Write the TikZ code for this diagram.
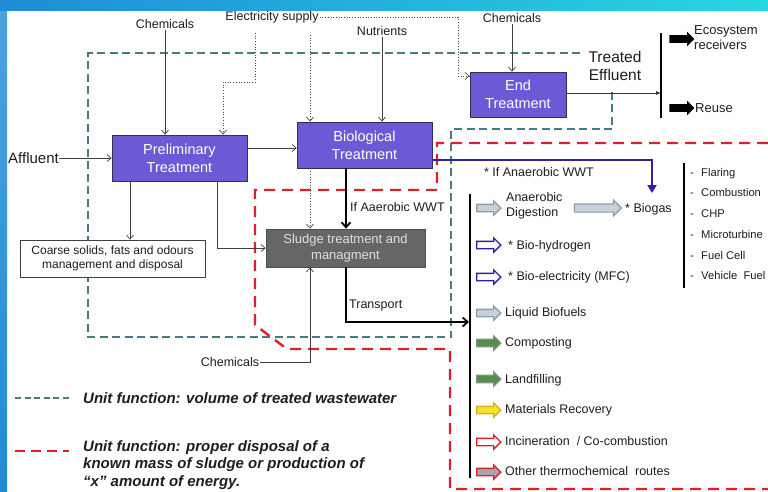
\documentclass[tikz,border=0pt]{standalone}
\usepackage{fontspec}
\setmainfont{Liberation Sans}
\usetikzlibrary{arrows.meta,shapes.arrows}
\definecolor{pboxc}{RGB}{106,90,214}
\definecolor{pborder}{RGB}{50,45,90}
\definecolor{gboxc}{RGB}{102,102,102}
\definecolor{tealc}{RGB}{74,122,128}
\definecolor{redc}{RGB}{222,32,40}
\definecolor{bluec}{RGB}{45,35,160}
\definecolor{txtc}{RGB}{30,30,30}
\definecolor{frameA}{RGB}{30,140,215}
\definecolor{frameB}{RGB}{40,215,225}
\definecolor{greyarrow}{RGB}{200,208,216}
\definecolor{greyedge}{RGB}{140,158,176}
\definecolor{greenc}{RGB}{86,140,76}
\definecolor{greenedge}{RGB}{125,145,125}
\definecolor{yellowc}{RGB}{245,225,40}
\definecolor{yellowedge}{RGB}{215,180,30}
\newcommand{\fsz}[2]{\fontsize{#1}{#2}\selectfont}
\newcommand{\shaft}[1]{\rule{0pt}{#1}}
\begin{document}
\begin{tikzpicture}[x=1pt,y=-1pt,
  pbox/.style={draw=pborder, line width=0.8pt, fill=pboxc, text=white, align=center, inner sep=0pt, font=\fsz{14.5}{18}},
  gbox/.style={draw=black!70, line width=0.8pt, fill=gboxc, text=black!12, align=center, inner sep=0pt, font=\fsz{13}{16}},
  wbox/.style={draw=black!75, line width=0.8pt, fill=white, text=txtc, align=center, inner sep=0pt, font=\fsz{12}{14.5}},
  lbl/.style={text=txtc, font=\fsz{12.5}{15}, inner sep=1pt},
  item/.style={text=txtc, font=\fsz{12.5}{15}, inner sep=0pt, anchor=west, text height=9pt, text depth=2.5pt},
  sitem/.style={text=txtc, font=\fsz{11.2}{13}, inner sep=0pt, anchor=west, text height=8pt, text depth=2.5pt},
  conn/.style={draw=black!75, line width=0.7pt, -{Straight Barb[length=4pt,width=7pt]}},
  dotc/.style={draw=black!70, line width=0.7pt, dotted, -{Straight Barb[length=4pt,width=7pt]}},
  thk/.style={draw=black, line width=1.8pt, -{Straight Barb[length=5pt,width=9pt]}},
  tealdash/.style={draw=tealc, line width=1.8pt, dash pattern=on 8pt off 4.5pt},
  reddash/.style={draw=redc, line width=2.4pt, dash pattern=on 11pt off 7pt},
  harrow/.style={single arrow, minimum height=24pt, single arrow head extend=3.5pt, inner sep=0pt, line width=1.3pt},
  barrow/.style={single arrow, fill=black, minimum height=25pt, single arrow head extend=3.5pt, inner sep=0pt}
]
\useasboundingbox (0,0) rectangle (768,491);
% frame
\fill[white] (0,0) rectangle (768,491);
\shade[top color=frameA!80!white, bottom color=frameA] (0,0) rectangle (7,491);
\shade[left color=frameA, right color=frameB] (0,0) rectangle (768,10);

% dashed boundaries
\draw[tealdash] (580,53) -- (88,53) -- (88,337) -- (451,337) -- (451,129) -- (612,129) -- (612,88);
\draw[reddash] (768,143) -- (437,143) -- (437,190) -- (255,190) -- (255,325) -- (287,349) -- (450,349) -- (450,489) -- (768,489);

% boxes
\node[pbox, minimum width=135pt, minimum height=46pt] (prelim) at (179.5,158) {Preliminary\\Treatment};
\node[pbox, minimum width=135pt, minimum height=46pt] (bio) at (364.5,145) {Biological\\Treatment};
\node[pbox, minimum width=96pt, minimum height=45pt] (endt) at (518,94.5) {End\\Treatment};
\node[gbox, minimum width=159pt, minimum height=38pt] (sludge) at (345.5,248) {Sludge treatment and\\managment};
\node[wbox, minimum width=185pt, minimum height=37pt] (coarse) at (112.5,258.5) {Coarse solids, fats and odours\\management and disposal};

% labels
\node[lbl] (chem1) at (165,24) {Chemicals};
\node[lbl] (elec) at (272,17) {Electricity supply};
\node[lbl] (nutr) at (382,31) {Nutrients};
\node[lbl] (chem2) at (512,18) {Chemicals};
\node[lbl] (chem3) at (230,362) {Chemicals};
\node[lbl, font=\fsz{15}{17}, anchor=west, inner sep=0pt] (affl) at (8,158) {Affluent};
\node[lbl, anchor=west] (aer) at (349,207) {If Aaerobic WWT};
\node[lbl, anchor=west] (transp) at (348,305) {Transport};
\node[lbl, font=\fsz{15.5}{18}, align=center] (treated) at (615,66) {Treated\\Effluent};

% coordinates
\coordinate (e1) at (255,33);
\coordinate (e2) at (223,82);
\coordinate (e3) at (310,35);
\coordinate (e4) at (458,76);
\coordinate (pb) at (247,148);
\coordinate (pc) at (130,181);
\coordinate (ps) at (217,181);
\coordinate (bs) at (346,168);
\coordinate (trend) at (469,322);
\coordinate (barT) at (470,194);
\coordinate (barB) at (470,478);
\coordinate (bar2T) at (661,33);
\coordinate (bar2B) at (661,118);
\coordinate (blueA) at (432,160);
\coordinate (blueB) at (652,160);
\coordinate (blueC) at (652,193);

% inputs
\draw[conn] (chem1.south) -- (chem1.south |- prelim.north);
\draw[dotc] (e1) |- (e2) -- (e2 |- prelim.north);
\draw[dotc] (e3) -- (e3 |- bio.north);
\draw[dotc] (elec.east) -| (e4) -- (e4 -| endt.west);
\draw[dotc] (e3 |- bio.south) -- (e3 |- sludge.north);
\draw[conn] (nutr.south) -- (nutr.south |- bio.north);
\draw[conn] (chem2.south) -- (chem2.south |- endt.north);
\draw[conn] (affl.east) -- (affl.east -| prelim.west);
\draw[conn] (pb) -- (pb -| bio.west);
\draw[conn] (pc) -- (pc |- coarse.north);
\draw[conn] (ps) |- (sludge.west);
\draw[thk] (bs) -- (bs |- sludge.north);
\draw[thk] (bs |- sludge.south) |- (trend);
\draw[conn] (chem3.east) -| (e3 |- sludge.south);
\draw[draw=black!80, line width=0.8pt, -{Latex[length=5pt,width=4pt]}] (endt.east |- 0,93) -- (bar2T |- 0,93);
\draw[draw=bluec, line width=2pt, -{Triangle[length=8pt,width=9pt]}] (blueA) -- (blueB) -- (blueC);

% bars
\draw[line width=2.5pt] (barT) -- (barB);
\draw[line width=2.5pt] (bar2T) -- (bar2B);

% effluent outputs
\node[barrow] (ar1) at (680,39) {\shaft{7.5pt}};
\node[barrow] (ar2) at (680,108) {\shaft{7.5pt}};
\node[lbl, anchor=west, inner sep=0pt, align=left, font=\fsz{13}{15}] (eco) at (694,38) {Ecosystem\\receivers};
\node[lbl, anchor=west, inner sep=0pt, font=\fsz{13}{15}] (reuse) at (695,108) {Reuse};

% sludge routes
\node[lbl, font=\fsz{12.5}{15}] (ifan) at (539,172) {* If Anaerobic WWT};
\node[harrow, draw=greyedge, fill=greyarrow] (a1) at (487,208) {\shaft{6pt}};
\node[lbl, anchor=west, inner sep=0pt, align=left, font=\fsz{12.5}{15}] (t1) at (506,206) {Anaerobic\\Digestion};
\node[single arrow, draw=greyedge, fill=greyarrow, line width=1.2pt, minimum height=47pt, single arrow head extend=4pt, inner sep=0pt] (abig) at (596,208) {\shaft{7pt}};
\node[item] (biogas) at (625,209) {* Biogas};
\node[harrow, draw=bluec, fill=white] (a2) at (487,245) {\shaft{6pt}};
\node[item] (t2) at (508,246) {* Bio-hydrogen};
\node[harrow, draw=bluec, fill=white] (a3) at (487,277) {\shaft{6pt}};
\node[item] (t3) at (508,277) {* Bio-electricity (MFC)};
\node[harrow, draw=greyedge, fill=greyarrow] (a4) at (487,313) {\shaft{6pt}};
\node[item] (t4) at (505,313) {Liquid Biofuels};
\node[harrow, draw=greenedge, fill=greenc] (a5) at (487,343) {\shaft{6pt}};
\node[item] (t5) at (505,343) {Composting};
\node[harrow, draw=greenedge, fill=greenc] (a6) at (487,379) {\shaft{6pt}};
\node[item] (t6) at (505,380) {Landfilling};
\node[harrow, draw=yellowedge, fill=yellowc] (a7) at (487,410) {\shaft{6pt}};
\node[item] (t7) at (505,410) {Materials Recovery};
\node[harrow, draw=redc, fill=white] (a8) at (487,442) {\shaft{6pt}};
\node[item] (t8) at (505,442) {Incineration~ / Co-combustion};
\node[harrow, draw=redc, fill=black!35] (a9) at (487,472) {\shaft{6pt}};
\node[item] (t9) at (505,472) {Other thermochemical~ routes};

% biogas uses
\coordinate (bgT) at (684,163);
\coordinate (bgB) at (684,288);
\draw[line width=2.2pt] (bgT) -- (bgB);
\foreach \yy/\tt [count=\i] in {174/Flaring,194/Combustion,215/CHP,236/Microturbine,257/Fuel Cell,277/Vehicle~ Fuel}{
  \node[sitem] (d\i) at (690,\yy) {-};
  \node[sitem] (u\i) at (701,\yy) {\tt};
}

% legend
\coordinate (lgA) at (15,398);
\coordinate (lgB) at (69,398);
\coordinate (lgC) at (15,451);
\coordinate (lgD) at (69,451);
\draw[tealdash, line width=1.6pt, dash pattern=on 6pt off 3.5pt] (lgA) -- (lgB);
\draw[reddash, line width=2pt, dash pattern=on 10pt off 6pt] (lgC) -- (lgD);
\node[anchor=west, inner sep=0pt, text=txtc, font=\fsz{15}{18}\bfseries\itshape] (leg1) at (83,398) {Unit function: volume of treated wastewater};
\node[anchor=north west, inner sep=0pt, text=txtc, align=left, font=\fsz{15}{17.5}\bfseries\itshape] (leg2) at (83,440) {Unit function: proper disposal of a\\known mass of sludge or production of\\“x” amount of energy.};
\end{tikzpicture}
\end{document}
